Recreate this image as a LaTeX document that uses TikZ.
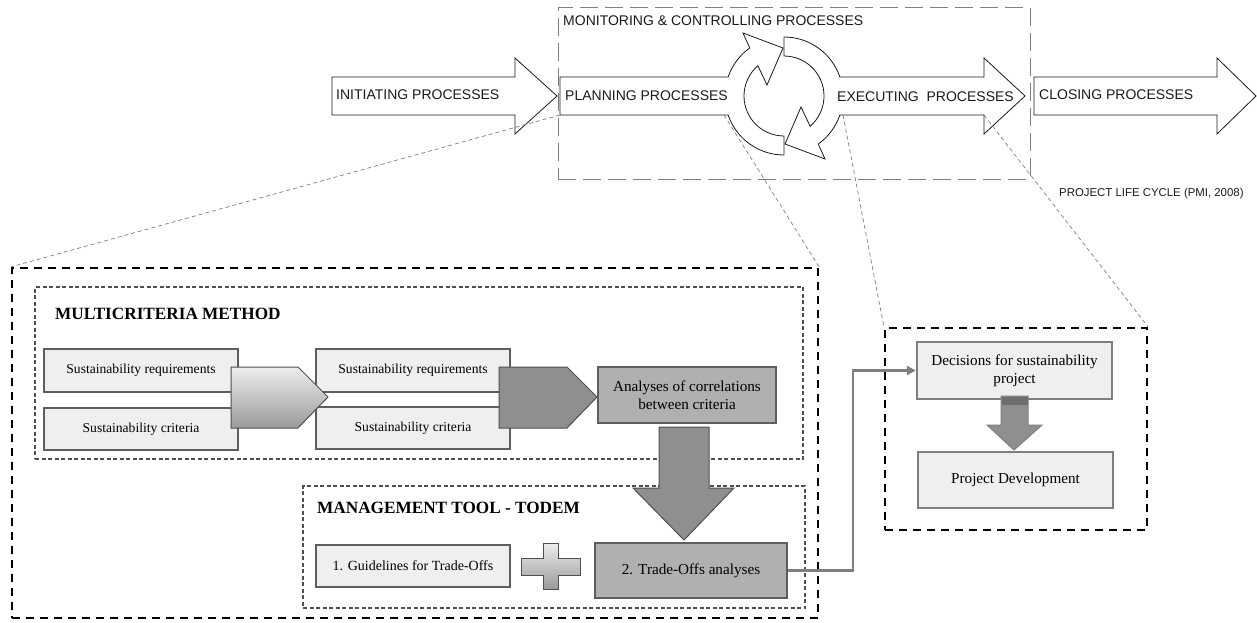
\documentclass[tikz,border=0pt]{standalone}
\usepackage{fontspec}
\setmainfont{Liberation Serif}
\newfontfamily\arialf{Liberation Sans}
\usetikzlibrary{arrows.meta}
\definecolor{boxlight}{HTML}{EFEFEF}
\definecolor{boxborder}{HTML}{5E5E5E}
\definecolor{boxmid}{HTML}{B0B0B0}
\definecolor{arrowdark}{HTML}{8F8F8F}
\definecolor{borderdark}{HTML}{4F4F4F}
\definecolor{linegray}{HTML}{7F7F7F}
\definecolor{gradA}{HTML}{EDEDED}
\definecolor{gradB}{HTML}{9A9A9A}
\definecolor{bandgray}{HTML}{6E6E6E}
\definecolor{textdark}{HTML}{1A1A1A}
\begin{document}
\begin{tikzpicture}[x=1pt,y=-1pt,
  procarrow/.style={draw=textdark,line width=0.8pt,fill=white},
  proclabel/.style={font=\arialf\fontsize{14}{16}\selectfont,text=textdark,anchor=west,inner sep=0pt},
  lightbox/.style={draw=boxborder,line width=1.8pt,fill=boxlight,inner sep=0pt,align=center},
  midbox/.style={draw=boxborder,line width=1.8pt,fill=boxmid,inner sep=0pt,align=center},
  decbox/.style={draw=linegray,line width=2.4pt,fill=boxlight,inner sep=0pt,align=center},
  smalltext/.style={font=\fontsize{13.6}{16}\selectfont},
  bigtext/.style={font=\fontsize{15.2}{18}\selectfont},
  heading/.style={font=\bfseries\fontsize{17.2}{20}\selectfont,anchor=west,inner sep=0pt},
  outerdash/.style={draw=black,line width=2.2pt,dash pattern=on 8pt off 6pt,inner sep=0pt},
  innerdash/.style={draw=borderdark,line width=1.3pt,dash pattern=on 4pt off 2.5pt,inner sep=0pt},
  mondash/.style={draw=linegray,line width=1pt,dash pattern=on 18pt off 7pt,inner sep=0pt},
  zoomline/.style={draw=linegray,line width=0.7pt,dash pattern=on 4pt off 3pt},
  flowshape/.style={draw=borderdark,line width=1pt,fill=arrowdark},
  connector/.style={draw=linegray,line width=2.6pt,-{Triangle[length=9pt,width=9pt]}}
]
\useasboundingbox (0,0) rectangle (1257,623);

% ---------- dashed frames ----------
\node[mondash,minimum width=472pt,minimum height=171pt] (mon) at (794,93.5) {};
\node[outerdash,minimum width=806pt,minimum height=350pt] (big) at (415,443) {};
\node[outerdash,minimum width=262pt,minimum height=202pt] (rb) at (1016,429) {};
\node[innerdash,minimum width=768pt,minimum height=172pt] (mc) at (419,373) {};
\node[innerdash,minimum width=502pt,minimum height=122pt] (mt) at (554,547) {};

% ---------- top process arrows ----------
\coordinate (C) at (784,96);
\draw[procarrow] (332,77) -- (515,77) -- (515,58) -- (557,96) -- (515,134) -- (515,115) -- (332,115) -- cycle;
\draw[procarrow] (1034,77) -- (1217,77) -- (1217,58) -- (1256,96) -- (1217,134) -- (1217,115) -- (1034,115) -- cycle;
% left ring arrow merged with planning arrow
\draw[procarrow] ([shift={(90:59)}]C) arc[start angle=90,end angle=161.2,radius=59]
  -- (560,115) -- (560,77) -- ([shift={(198.8:59)}]C) arc[start angle=198.8,end angle=234.5,radius=59]
  -- (743,33) -- (783,48) -- (767,85) -- ([shift={(229.2:40)}]C) arc[start angle=229.2,end angle=90,radius=40] -- cycle;
% right ring arrow merged with executing arrow
\draw[procarrow] ([shift={(-90:59)}]C) arc[start angle=-90,end angle=-18.8,radius=59]
  -- (984,77) -- (984,58) -- (1025,96) -- (984,134) -- (984,115) -- ([shift={(18.8:59)}]C) arc[start angle=18.8,end angle=54.5,radius=59]
  -- (825,159) -- (785,144) -- (801,107) -- ([shift={(49.2:40)}]C) arc[start angle=49.2,end angle=-90,radius=40] -- cycle;

\node[proclabel] (tmon) at (563,20.5) {MONITORING \& CONTROLLING PROCESSES};
\node[proclabel] (tini) at (336,95) {INITIATING PROCESSES};
\node[proclabel] (tpla) at (565,96) {PLANNING PROCESSES};
\node[proclabel] (texe) at (837,96.5) {EXECUTING\ \ PROCESSES};
\node[proclabel] (tclo) at (1039,94.5) {CLOSING PROCESSES};
\node[font=\arialf\fontsize{11.4}{13}\selectfont,text=textdark,anchor=west,inner sep=0pt] (tplc) at (1059,194) {PROJECT LIFE CYCLE (PMI, 2008)};

\coordinate (plaBL) at (560,115);
\coordinate (plaJ) at (724,115);
\coordinate (exeJ) at (843,115);
\coordinate (exeH) at (984,115);

% ---------- multicriteria ----------
\node[heading] (hmc) at (55,314) {MULTICRITERIA METHOD};
\node[lightbox,smalltext,minimum width=194pt,minimum height=43pt] (sr1) at (141,370.5) {Sustainability requirements};
\node[lightbox,smalltext,minimum width=194pt,minimum height=42pt] (sc1) at (141,429) {Sustainability criteria};
\node[lightbox,smalltext,minimum width=194pt,minimum height=43pt] (sr2) at (413,370.5) {Sustainability requirements};
\node[lightbox,smalltext,minimum width=194pt,minimum height=42pt] (sc2) at (413,428) {Sustainability criteria};
\draw[draw=borderdark,line width=1pt,top color=gradA,bottom color=gradB]
  (231,367) -- (298,367) -- (328,397) -- (298,428) -- (231,428) -- cycle;
\draw[flowshape] (499,367) -- (567,367) -- (597,397) -- (567,428) -- (499,428) -- cycle;
\node[midbox,bigtext,minimum width=178pt,minimum height=56pt] (an) at (687,395) {Analyses of correlations\\between criteria};

% ---------- management tool ----------
\node[heading] (hmt) at (317,508) {MANAGEMENT TOOL - TODEM};
\node[lightbox,font=\fontsize{14}{16}\selectfont,minimum width=194pt,minimum height=42pt] (gl) at (413,566) {1. Guidelines for Trade-Offs};
\node[midbox,bigtext,minimum width=192pt,minimum height=55pt] (to) at (691,570.5) {2. Trade-Offs analyses};
\draw[draw=borderdark,line width=1pt,top color=gradA,bottom color=gradB]
  (543,543) -- (558,543) -- (558,558) -- (580,558) -- (580,575) -- (558,575) -- (558,589) -- (543,589)
  -- (543,575) -- (521,575) -- (521,558) -- (543,558) -- cycle;
\draw[flowshape] (659,427) -- (709,427) -- (709,488) -- (734,488) -- (684,540) -- (633,488) -- (659,488) -- cycle;

% ---------- decisions ----------
\node[decbox,bigtext,minimum width=195pt,minimum height=57pt] (dec) at (1014.5,370.5) {Decisions for sustainability\\project};
\node[decbox,bigtext,minimum width=195pt,minimum height=56pt] (pd) at (1015.5,480) {Project Development};
\draw[draw=linegray,line width=1pt,fill=arrowdark] (1001,396) -- (1028,396) -- (1028,425) -- (1042,425) -- (1014,450) -- (987,425) -- (1001,425) -- cycle;
\fill[bandgray] (1001.5,396.5) rectangle (1027.5,405);

\draw[connector] (to.east) -- ++(65,0) |- (dec.west);

% ---------- zoom lines ----------
\draw[zoomline] (plaBL) -- (big.north west);
\draw[zoomline] (plaJ) -- (big.north east);
\draw[zoomline] (exeJ) -- (rb.north west);
\draw[zoomline] (exeH) -- (rb.north east);
\end{tikzpicture}
\end{document}
